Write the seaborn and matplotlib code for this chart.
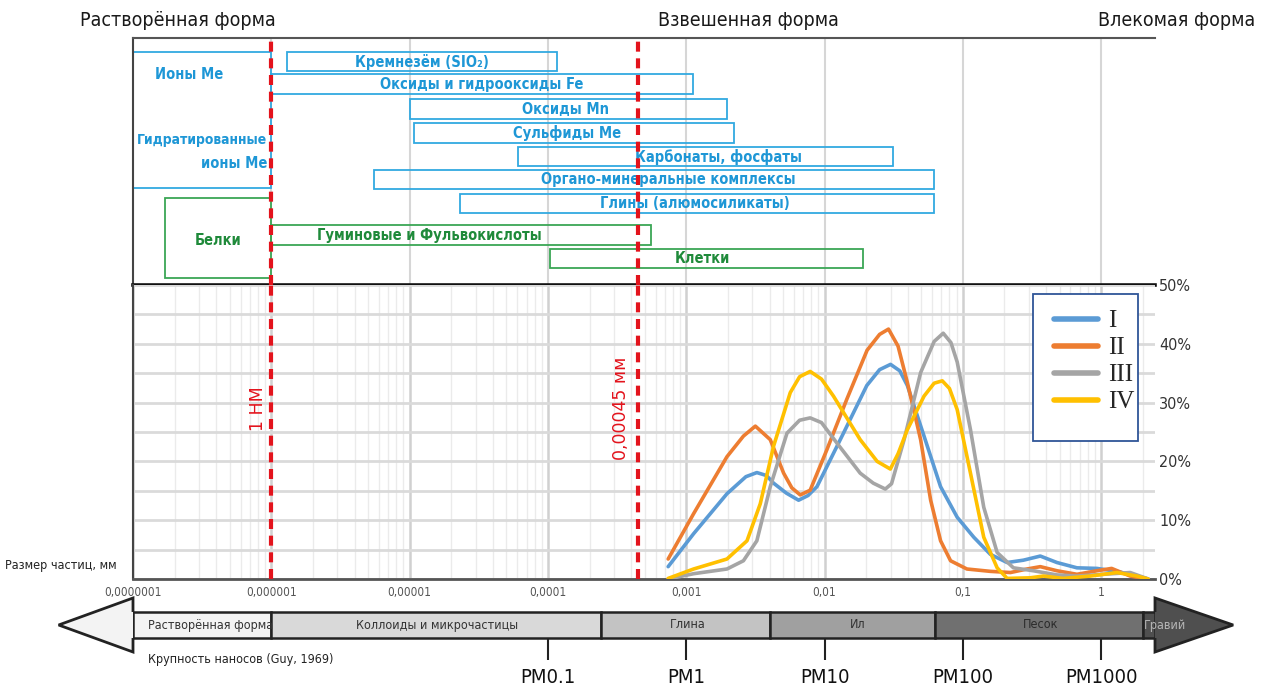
import numpy as np
import pandas as pd
import seaborn as sns
import matplotlib.pyplot as plt
from matplotlib.lines import Line2D
from matplotlib.patches import Polygon, Rectangle
from matplotlib.ticker import FixedLocator, FixedFormatter, LogLocator, NullFormatter

# Particle size distributions: size in mm, share in %
size_I = [0.00074, 0.00113, 0.00197, 0.0027, 0.00324, 0.0038, 0.00428, 0.0053, 0.00649, 0.0076,
          0.00881, 0.0137, 0.0202, 0.025, 0.0300, 0.035, 0.0397, 0.0524, 0.0690, 0.0910, 0.120,
          0.158, 0.209, 0.274, 0.363, 0.479, 0.668, 0.931, 1.30, 1.81, 2.19]
share_I = [2.1, 7.7, 14.5, 17.4, 18.1, 17.6, 16.3, 14.6, 13.4, 14.2,
           15.7, 24.8, 32.9, 35.6, 36.5, 35.4, 32.9, 24.3, 15.7, 10.5, 7.1,
           4.2, 2.8, 3.2, 3.9, 2.8, 1.9, 1.8, 1.3, 0.5, 0.0]

size_II = [0.00074, 0.00113, 0.00197, 0.00259, 0.00316, 0.00405, 0.00506, 0.0058, 0.00667, 0.00787,
           0.0104, 0.0145, 0.0203, 0.025, 0.0290, 0.034, 0.0397, 0.0495, 0.0585, 0.0690, 0.0815,
           0.107, 0.158, 0.221, 0.291, 0.363, 0.479, 0.668, 0.931, 1.19, 1.62, 2.13]
share_II = [3.4, 11.1, 20.8, 24.3, 26.0, 23.7, 18.0, 15.5, 14.3, 15.1,
            22.0, 30.6, 38.9, 41.6, 42.5, 39.6, 33.4, 23.7, 13.4, 6.5, 3.1,
            1.7, 1.3, 1.1, 1.7, 2.1, 1.4, 0.8, 1.4, 1.8, 0.5, 0.0]

size_III = [0.00074, 0.00113, 0.00197, 0.00259, 0.00324, 0.00405, 0.00535, 0.0066, 0.00787, 0.0095,
            0.0123, 0.0181, 0.0225, 0.0275, 0.0305, 0.0376, 0.0495, 0.062, 0.0721, 0.082, 0.0910,
            0.1135, 0.1416, 0.177, 0.232, 0.324, 0.476, 0.668, 1.04, 1.62, 2.19]
share_III = [0.0, 0.9, 1.7, 3.1, 6.5, 15.7, 24.8, 27.0, 27.4, 26.6,
             23.1, 18.0, 16.3, 15.3, 16.2, 23.7, 35.1, 40.4, 41.8, 40.2, 36.9,
             25.4, 12.2, 4.5, 1.9, 1.4, 0.7, 0.5, 0.8, 1.1, 0.0]

size_IV = [0.00074, 0.00113, 0.00197, 0.00275, 0.00343, 0.00428, 0.00565, 0.0066, 0.00787, 0.0095,
           0.0116, 0.0181, 0.024, 0.0299, 0.034, 0.0397, 0.0524, 0.062, 0.0710, 0.080, 0.0910,
           0.1135, 0.1416, 0.177, 0.209, 0.306, 0.382, 0.532, 0.834, 1.30, 1.81, 2.19]
share_IV = [0.1, 1.7, 3.4, 6.5, 12.8, 22.6, 31.7, 34.4, 35.3, 34.0,
            31.1, 23.7, 20.0, 18.7, 21.3, 25.4, 31.1, 33.3, 33.7, 32.4, 28.8,
            18.0, 7.1, 1.9, 0.1, 0.2, 0.5, 0.1, 0.5, 1.1, 0.5, 0.0]

sample_names = ['I', 'II', 'III', 'IV']
sample_colors = ['#5b9bd5', '#ed7d31', '#a5a5a5', '#ffc000']

# Size ranges of substance forms (upper panel), mm
form_labels = ['Кремнезём (SIO₂)', 'Оксиды и гидрооксиды Fe', 'Оксиды Mn', 'Сульфиды Me',
               'Карбонаты, фосфаты', 'Органо-минеральные комплексы', 'Глины (алюмосиликаты)',
               'Гуминовые и Фульвокислоты', 'Клетки']
form_start = [1.3e-6, 1e-6, 1e-5, 1.08e-5, 6.1e-5, 5.5e-6, 2.3e-5, 1e-6, 1.04e-4]
form_end = [1.16e-4, 1.12e-3, 1.97e-3, 2.22e-3, 3.1e-2, 6.2e-2, 6.2e-2, 5.6e-4, 1.9e-2]
form_rows = [1.0, 1.96, 3.02, 4.04, 5.04, 6.02, 7.04, 8.38, 9.38]
form_label_x = [1.23e-5, 3.33e-5, 1.33e-4, 1.38e-4, 1.7e-3, 7.4e-4, 1.16e-3, 1.4e-5, 1.32e-3]
form_group = ['blue'] * 7 + ['green'] * 2

# Sediment classes (Guy, 1969), mm
class_labels = ['Растворённая форма', 'Коллоиды и микрочастицы', 'Глина', 'Ил', 'Песок', 'Гравий']
class_bounds = [1e-7, 1e-6, 2.4e-4, 0.004, 0.0625, 2.0, 2.45]
class_label_x = [3.66e-7, 1.58e-5, 1.03e-3, 0.0175, 0.362, 2.9]
class_colors = ['#f3f3f3', '#d9d9d9', '#c3c3c3', '#a0a0a0', '#707070', '#4f4f4f']
class_text_colors = ['#333333', '#333333', '#333333', '#333333', '#2a2a2a', '#b5b5b5']
arrow_tips = [2.9e-8, 9.0]

pm_sizes = [1e-4, 1e-3, 1e-2, 0.1, 1.0]
pm_labels = ['PM0.1', 'PM1', 'PM10', 'PM100', 'PM1000']

x_ticks = [1e-7, 1e-6, 1e-5, 1e-4, 1e-3, 1e-2, 0.1, 1.0]
x_tick_labels = ['0,0000001', '0,000001', '0,00001', '0,0001', '0,001', '0,01', '0,1', '1']
y_ticks = [0, 10, 20, 30, 40, 50]
y_tick_labels = ['0%', '10%', '20%', '30%', '40%', '50%']

boundary_sizes = [1e-6, 4.5e-4]
boundary_labels = ['1 НМ', '0,00045 мм']

X_MIN, X_MAX = 1e-7, 2.45
BLUE_EDGE, BLUE_TEXT = '#31a9e1', '#1e97d6'
GREEN_EDGE, GREEN_TEXT = '#3aa655', '#1f8a3a'
RED = '#e3131c'
COND = dict(family='DejaVu Sans', stretch='condensed')


def px(x, y):
    # figure fraction from reference pixel position (only for layout)
    return x / 1267, 1 - y / 691


def draw_forms(ax):
    ax.set_xscale('log')
    ax.set_xlim(X_MIN, X_MAX)
    ax.set_ylim(10.5, 0)
    ax.xaxis.set_major_locator(FixedLocator(x_ticks))
    ax.xaxis.set_minor_formatter(NullFormatter())
    ax.tick_params(which='both', left=False, bottom=False, labelleft=False, labelbottom=False)
    ax.grid(axis='x', which='major', color='#d6d6d6', lw=1.5)
    ax.grid(axis='x', which='minor', visible=False)
    ax.set_axisbelow(True)
    ax.spines['right'].set_visible(False)
    ax.spines['top'].set_color('#555555')
    ax.spines['left'].set_color('#444444')
    ax.spines['top'].set_linewidth(1.5)
    ax.spines['left'].set_linewidth(1.5)
    ax.spines['bottom'].set_color('#111111')
    ax.spines['bottom'].set_linewidth(2.6)

    for label, x0, x1, row, lx, grp in zip(form_labels, form_start, form_end,
                                           form_rows, form_label_x, form_group):
        edge = BLUE_EDGE if grp == 'blue' else GREEN_EDGE
        txt = BLUE_TEXT if grp == 'blue' else GREEN_TEXT
        ax.barh(row, x1 - x0, left=x0, height=0.83, fill=False, edgecolor=edge, lw=1.3)
        ax.text(lx, row, label, ha='center', va='center', color=txt,
                fontsize=10.5, fontweight='bold', **COND)

    # ions and proteins boxes on the left
    ax.barh(3.49, 1e-6 - 1e-7, left=1e-7, height=5.78, fill=False, edgecolor=BLUE_EDGE, lw=1.3)
    ax.barh(8.51, 1e-6 - 1.7e-7, left=1.7e-7, height=3.4, fill=False, edgecolor=GREEN_EDGE, lw=1.3)
    ax.text(1.45e-7, 1.57, 'Ионы Me', ha='left', va='center', color=BLUE_TEXT,
            fontsize=10.5, fontweight='bold', **COND)
    ax.text(9.4e-7, 4.34, 'Гидратированные', ha='right', va='center', color=BLUE_TEXT,
            fontsize=10, fontweight='bold', **COND)
    ax.text(9.4e-7, 5.32, 'ионы Me', ha='right', va='center', color=BLUE_TEXT,
            fontsize=10.5, fontweight='bold', **COND)
    ax.text(4.1e-7, 8.6, 'Белки', ha='center', va='center', color=GREEN_TEXT,
            fontsize=10.5, fontweight='bold', **COND)

    for xb in boundary_sizes:
        ax.axvline(xb, color=RED, lw=3, dashes=(2.4, 1.6), zorder=5)


def draw_distribution(ax):
    ax.set_xscale('log')
    df = pd.concat([
        pd.DataFrame({'size': s, 'share': v, 'sample': n})
        for s, v, n in zip([size_I, size_II, size_III, size_IV],
                           [share_I, share_II, share_III, share_IV], sample_names)
    ])
    sns.lineplot(data=df, x='size', y='share', hue='sample',
                 palette=dict(zip(sample_names, sample_colors)),
                 estimator=None, sort=False, linewidth=2.6, legend=False, ax=ax, zorder=4)
    ax.set_xlim(X_MIN, X_MAX)
    ax.set_ylim(0, 50)
    ax.set_xlabel('')
    ax.set_ylabel('')

    ax.xaxis.set_major_locator(FixedLocator(x_ticks))
    ax.xaxis.set_major_formatter(FixedFormatter(x_tick_labels))
    ax.xaxis.set_minor_locator(LogLocator(base=10, subs=np.arange(2, 10), numticks=30))
    ax.xaxis.set_minor_formatter(NullFormatter())
    ax.yaxis.tick_right()
    ax.yaxis.set_major_locator(FixedLocator(y_ticks))
    ax.yaxis.set_major_formatter(FixedFormatter(y_tick_labels))
    ax.yaxis.set_minor_locator(FixedLocator([5, 15, 25, 35, 45]))
    ax.tick_params(which='both', length=0)
    ax.tick_params(axis='x', labelsize=8.5, labelcolor='#555555', pad=5)
    ax.tick_params(axis='y', labelsize=11.5, labelcolor='#333333', pad=3)
    for lab in ax.get_xticklabels() + ax.get_yticklabels():
        lab.set_fontstretch('condensed')

    ax.grid(axis='x', which='major', color='#d0d0d0', lw=1.8)
    ax.grid(axis='x', which='minor', color='#ebebeb', lw=1.0)
    ax.grid(axis='y', which='both', color='#dadada', lw=2.0)
    ax.set_axisbelow(True)

    ax.spines['top'].set_visible(False)
    ax.spines['right'].set_visible(False)
    ax.spines['left'].set_color('#444444')
    ax.spines['left'].set_linewidth(1.5)
    ax.spines['bottom'].set_color('#555555')
    ax.spines['bottom'].set_linewidth(2.0)

    for xb, lab, xl in zip(boundary_sizes, boundary_labels, [8.0e-7, 3.4e-4]):
        ax.axvline(xb, color=RED, lw=3, dashes=(2.4, 1.6), zorder=5)
        ax.text(xl, 29, lab, rotation=90, ha='center', va='center', color=RED,
                fontsize=12.5, family='DejaVu Sans', fontstretch='normal')

    # legend with its own box
    ax.add_patch(Rectangle((0.8806, 0.469), 0.1028, 0.5, transform=ax.transAxes,
                           facecolor='white', edgecolor='#2f5597', lw=1.3, zorder=6))
    handles = [Line2D([], [], color=c, lw=4) for c in sample_colors]
    leg = ax.legend(handles, sample_names, loc='upper left', bbox_to_anchor=(0.884, 0.975),
                    frameon=False, prop={'family': 'Liberation Serif', 'size': 18},
                    handlelength=1.75, labelspacing=0.18, handletextpad=0.4, borderpad=0.2)
    leg.set_zorder(7)


def draw_band(ax):
    ax.set_xscale('log')
    ax.set_xlim(X_MIN, X_MAX)
    ax.set_ylim(0, 1)
    ax.axis('off')
    lo, hi = 0.259, 0.741
    # left arrow head (dissolved form)
    ax.add_patch(Polygon([(class_bounds[0], hi), (class_bounds[0], 1.0), (arrow_tips[0], 0.5),
                          (class_bounds[0], 0.0), (class_bounds[0], lo)], closed=False,
                         facecolor=class_colors[0], edgecolor='#222222', lw=2, clip_on=False,
                         joinstyle='miter'))
    # right arrow head (gravel)
    ax.add_patch(Polygon([(class_bounds[-1], lo), (class_bounds[-1], 0.0), (arrow_tips[1], 0.5),
                          (class_bounds[-1], 1.0), (class_bounds[-1], hi)], closed=False,
                         facecolor=class_colors[-1], edgecolor='#222222', lw=2, clip_on=False,
                         joinstyle='miter'))
    for i, (lab, lx, fc, tc) in enumerate(zip(class_labels, class_label_x,
                                               class_colors, class_text_colors)):
        x0, x1 = class_bounds[i], class_bounds[i + 1]
        ax.axvspan(x0, x1, ymin=lo, ymax=hi, facecolor=fc, edgecolor='#222222', lw=1.8)
        ax.text(lx, 0.5, lab, ha='center', va='center', color=tc, fontsize=9,
                clip_on=False, **COND)
    ax.vlines(pm_sizes, -0.15, lo, color='#222222', lw=1.5, clip_on=False)
    for xs, lab in zip(pm_sizes, pm_labels):
        ax.text(xs, -0.47, lab, ha='center', va='center', fontsize=14.5, color='#111111',
                clip_on=False, **COND)


def main():
    sns.set_style('white')
    plt.rcParams['font.family'] = ['DejaVu Sans']
    plt.rcParams['font.stretch'] = 'condensed'

    fig = plt.figure(figsize=(12.67, 6.91), dpi=100)
    ax_top = fig.add_axes([133 / 1267, 1 - 285 / 691, 1022 / 1267, 247 / 691])
    ax_bot = fig.add_axes([133 / 1267, 1 - 579 / 691, 1022 / 1267, 294 / 691])
    ax_band = fig.add_axes([133 / 1267, 1 - 652 / 691, 1022 / 1267, 54 / 691])

    draw_forms(ax_top)
    draw_distribution(ax_bot)
    draw_band(ax_band)

    title_kw = dict(va='center', fontsize=14, color='#1a1a1a', **COND)
    fig.text(*px(80, 20), 'Растворённая форма', ha='left', **title_kw)
    fig.text(*px(748, 20), 'Взвешенная форма', ha='center', **title_kw)
    fig.text(*px(1255, 20), 'Влекомая форма', ha='right', **title_kw)
    fig.text(*px(5, 565), 'Размер частиц, мм', ha='left', va='center', fontsize=9,
             color='#222222', **COND)
    fig.text(*px(148, 660), 'Крупность наносов (Guy, 1969)', ha='left', va='center',
             fontsize=9, color='#222222', **COND)

    fig.savefig('out.png', dpi=100, facecolor='white')


if __name__ == '__main__':
    main()
